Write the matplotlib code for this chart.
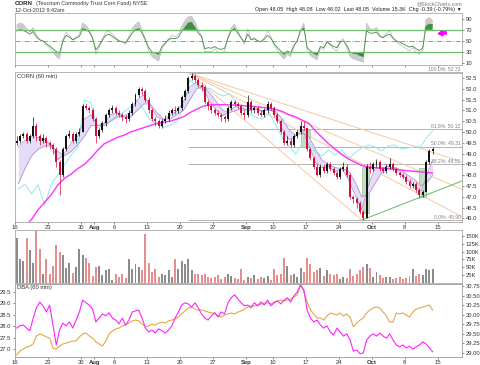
import numpy as np
import matplotlib
matplotlib.use('Agg')
import matplotlib.pyplot as plt

plt.rcParams['font.family'] = ['Liberation Sans', 'DejaVu Sans']

# ---------------- data (x unit = trading day since Jul 16, 2 bars per day) ----------------
closes = [
    49.6, 49.8, 49.9, 49.6, 49.8, 50.3, 49.8, 49.6, 49.7, 49.5,
    49.4, 49.2, 48.6, 48.0, 49.2, 49.8, 49.9, 49.6, 49.9, 50.0,
    51.2, 51.1, 51.0, 50.6, 49.8, 50.1, 50.4, 50.8, 51.0, 51.1,
    50.9, 50.8, 50.7, 50.6, 50.9, 51.3, 51.7, 52.0, 51.9, 51.5,
    51.0, 50.6, 50.5, 50.3, 50.5, 50.6, 50.9, 51.0, 50.95, 51.1,
    51.6, 51.9, 52.5, 52.6, 52.4, 52.2, 52.1, 51.4, 51.2, 51.0,
    50.9, 50.8, 50.7, 50.6, 51.1, 51.4, 51.3, 51.2, 50.9, 50.8,
    51.4, 51.0, 51.1, 50.9, 50.8, 51.0, 51.3, 51.1, 50.8, 50.5,
    50.0, 49.5, 49.6, 49.4, 49.8, 50.0, 50.3, 50.2, 49.2, 48.8,
    48.4, 48.0, 48.4, 48.2, 48.5, 48.3, 48.1, 47.9, 48.3, 48.4,
    48.0, 47.0, 46.9, 46.7, 46.3, 46.0, 48.4, 48.3, 48.5, 48.6,
    48.3, 48.2, 48.4, 48.5, 48.3, 48.1, 48.0, 47.9, 47.7, 47.5,
    47.6, 47.3, 47.1, 47.2, 48.6, 49.1, 49.2]
first_open = 49.5
highs = [
    49.8, 49.9, 50.0, 50.0, 49.9, 50.7, 50.4, 49.9, 49.9, 49.8,
    49.6, 49.5, 49.3, 48.7, 49.3, 49.9, 50.1, 50.0, 50.0, 50.2,
    51.3, 51.35, 51.2, 51.1, 50.7, 50.2, 50.5, 50.9, 51.1, 51.25,
    51.2, 51.0, 50.9, 50.8, 51.0, 51.4, 51.8, 52.1, 52.1, 52.0,
    51.6, 51.1, 50.7, 50.6, 50.6, 50.8, 51.0, 51.1, 51.2, 51.2,
    51.7, 52.0, 52.6, 52.73, 52.7, 52.5, 52.3, 52.2, 51.5, 51.3,
    51.1, 51.0, 50.9, 50.8, 51.2, 51.5, 51.5, 51.4, 51.3, 51.0,
    51.7, 51.5, 51.2, 51.2, 51.0, 51.1, 51.45, 51.4, 51.2, 50.9,
    50.6, 50.1, 49.8, 49.7, 49.9, 50.1, 50.5, 50.5, 50.2, 49.3,
    48.9, 48.5, 48.5, 48.5, 48.6, 48.6, 48.4, 48.2, 48.4, 48.6,
    48.5, 48.1, 47.1, 47.0, 46.8, 46.4, 48.5, 48.6, 48.6, 48.75,
    48.7, 48.4, 48.5, 48.8, 48.6, 48.4, 48.2, 48.1, 48.0, 47.8,
    47.7, 47.7, 47.4, 47.3, 48.7, 49.2, 49.3]
lows = [
    49.4, 49.5, 49.7, 49.5, 49.5, 49.7, 49.6, 49.4, 49.5, 49.3,
    49.2, 49.0, 48.4, 47.1, 47.9, 49.1, 49.7, 49.5, 49.5, 49.8,
    50.0, 51.0, 50.9, 50.5, 49.5, 49.7, 50.0, 50.3, 50.7, 50.9,
    50.8, 50.7, 50.5, 50.4, 50.5, 50.8, 51.2, 51.6, 51.7, 51.4,
    50.9, 50.5, 50.3, 50.2, 50.2, 50.4, 50.5, 50.8, 50.85, 50.9,
    51.0, 51.5, 51.8, 52.4, 52.3, 52.1, 51.9, 51.3, 51.0, 50.9,
    50.8, 50.7, 50.5, 50.45, 50.5, 51.0, 51.2, 51.1, 50.8, 50.6,
    50.7, 50.9, 50.9, 50.8, 50.7, 50.7, 50.9, 51.0, 50.7, 50.4,
    49.9, 49.4, 49.4, 49.3, 49.3, 49.7, 49.9, 50.1, 49.1, 48.7,
    48.3, 47.95, 47.9, 48.1, 48.1, 48.2, 48.0, 47.8, 47.8, 48.2,
    47.9, 46.9, 46.7, 46.5, 46.2, 45.9, 46.0, 48.1, 48.2, 48.4,
    48.2, 48.1, 48.1, 48.3, 48.2, 48.0, 47.9, 47.8, 47.6, 47.4,
    47.4, 47.2, 46.95, 47.0, 47.2, 48.5, 49.0]
volume_k = [
    145, 78, 70, 145, 105, 65, 165, 110, 30, 78,
    30, 55, 120, 100, 88, 48, 65, 32, 50, 110,
    90, 80, 65, 22, 50, 55, 25, 40, 45, 10,
    30, 20, 28, 15, 78, 45, 60, 50, 40, 155,
    65, 35, 45, 20, 30, 25, 40, 20, 78, 45,
    70, 60, 78, 40, 30, 28, 25, 30, 20, 15,
    18, 25, 12, 20, 28, 22, 15, 12, 45, 10,
    20, 15, 25, 12, 18, 15, 22, 10, 45, 25,
    30, 80, 55, 25, 30, 20, 48, 35, 80, 60,
    35, 40, 48, 22, 40, 30, 25, 30, 12, 20,
    15, 45, 22, 30, 40, 50, 62, 48, 20, 35,
    25, 15, 18, 20, 12, 15, 20, 12, 15, 22,
    45, 22, 30, 25, 45, 40, 45]
rsi_green = [
    68, 70, 69, 66, 62, 67, 57, 52, 50, 45,
    41, 36, 31, 28, 50, 60, 57, 52, 55, 58,
    72, 70, 66, 55, 34, 42, 52, 60, 62, 58,
    54, 50, 49, 47, 55, 64, 70, 72, 64, 52,
    38, 30, 29, 26, 40, 46, 52, 55, 54, 57,
    67, 74, 82, 83, 74, 64, 58, 36, 38, 37,
    40, 36, 35, 37, 55, 68, 72, 64, 55, 48,
    62, 52, 54, 50, 49, 53, 60, 55, 45, 38,
    32, 26, 32, 29, 42, 50, 68, 73, 38, 32,
    28, 25, 40, 38, 48, 44, 40, 38, 48, 50,
    42, 30, 28, 27, 24, 22, 68, 64, 64, 66,
    58, 56, 60, 62, 55, 50, 48, 45, 42, 39,
    41, 36, 33, 37, 76, 80, 79]
rsi_gray = [
    78, 82, 80, 72, 66, 74, 60, 52, 50, 42,
    38, 30, 22, 18, 52, 66, 60, 52, 57, 62,
    82, 78, 70, 56, 26, 38, 54, 66, 68, 62,
    56, 50, 48, 44, 58, 72, 80, 84, 70, 52,
    32, 22, 18, 14, 36, 46, 54, 60, 58, 62,
    76, 86, 93, 94, 84, 70, 60, 30, 32, 30,
    36, 30, 28, 32, 56, 74, 80, 68, 56, 44,
    72, 52, 56, 50, 48, 56, 68, 58, 42, 32,
    24, 18, 26, 22, 40, 52, 70, 82, 32, 24,
    20, 16, 38, 34, 50, 42, 36, 32, 50, 54,
    38, 22, 18, 16, 14, 12, 82, 72, 70, 74,
    60, 56, 64, 68, 56, 48, 44, 40, 36, 32,
    38, 30, 26, 34, 88, 92, 86]
dba_magenta = [
    29.65, 29.71, 29.73, 29.65, 29.58, 29.91, 30.18, 30.33, 30.23, 30.07,
    30.25, 29.73, 29.21, 29.60, 29.78, 29.71, 29.81, 29.65, 29.86, 30.07,
    30.38, 30.31, 30.25, 30.15, 29.81, 29.91, 30.02, 29.97, 30.05, 29.91,
    29.86, 29.76, 29.91, 29.73, 29.86, 30.07, 30.10, 30.12, 29.91, 29.65,
    29.55, 29.60, 29.52, 29.63, 29.58, 29.52, 29.60, 29.71, 29.91, 30.07,
    30.25, 30.31, 30.28, 30.20, 30.31, 30.18, 30.02, 29.91, 29.86, 29.97,
    30.05, 29.94, 30.07, 30.02, 30.31, 30.44, 30.52, 30.41, 30.31, 30.23,
    30.25, 30.18, 30.31, 30.23, 30.33, 30.25, 30.38, 30.23, 30.31, 30.36,
    30.28, 30.38, 30.44, 30.33, 30.49, 30.59, 30.78, 30.65, 30.12, 29.91,
    29.81, 29.86, 29.73, 29.65, 29.71, 29.55, 29.47, 29.65, 29.55, 29.44,
    29.50, 29.34, 29.05, 29.08, 28.98, 29.00, 29.34, 29.44, 29.50, 29.44,
    29.52, 29.44, 29.39, 29.50, 29.34, 29.21, 29.16, 29.21, 29.13, 29.18,
    29.10, 29.16, 29.21, 29.29, 29.24, 29.13, 29.03]
dba_orange = [
    26.74, 26.91, 27.00, 27.09, 27.13, 27.22, 27.57, 27.66, 27.61, 27.53,
    27.48, 27.04, 27.00, 27.13, 27.22, 27.26, 27.31, 27.35, 27.35, 27.53,
    27.66, 27.70, 27.57, 27.48, 27.31, 27.22, 27.13, 27.35, 27.66, 27.79,
    27.88, 27.92, 28.01, 28.05, 28.14, 28.23, 28.27, 28.23, 28.10, 27.97,
    28.01, 28.10, 28.05, 28.14, 28.18, 28.14, 28.23, 28.27, 28.32, 28.40,
    28.54, 28.67, 28.80, 28.84, 28.75, 28.71, 28.71, 28.67, 28.62, 28.58,
    28.58, 28.45, 28.40, 28.49, 28.54, 28.58, 28.54, 28.62, 28.67, 28.75,
    28.84, 28.89, 28.89, 28.93, 28.97, 29.02, 29.02, 28.97, 29.06, 29.11,
    29.15, 29.11, 29.15, 29.19, 29.28, 29.37, 29.81, 29.50, 29.06, 28.71,
    28.54, 28.36, 28.36, 28.27, 28.45, 28.58, 28.54, 28.49, 28.58, 28.45,
    28.54, 28.40, 27.97, 28.14, 28.27, 28.36, 28.58, 28.71, 28.80, 28.84,
    28.80, 28.62, 28.45, 28.18, 28.18, 28.58, 28.54, 28.58, 28.49, 28.40,
    28.62, 28.75, 28.80, 28.84, 28.89, 28.93, 28.71]
# one value per trading day
ma_slow_magenta = [
    45.3, 45.6, 45.95, 46.4, 46.75, 47.1, 47.55, 47.85, 48.05, 48.3,
    48.5, 48.8, 49.15, 49.45, 49.6, 49.75, 49.85, 50.0, 50.1, 50.2,
    50.3, 50.4, 50.45, 50.5, 50.6, 50.7, 50.9, 51.05, 51.2, 51.25,
    51.27, 51.27, 51.25, 51.25, 51.22, 51.2, 51.17, 51.14, 51.1, 51.05,
    50.95, 50.8, 50.7, 50.55, 50.4, 50.05, 49.75, 49.45, 49.2, 48.95,
    48.75, 48.6, 48.45, 48.38, 48.35, 48.32, 48.3, 48.27, 48.24, 48.2,
    48.18, 48.15, 48.12, 48.1]
band_fast = [
    49.3, 49.6, 49.8, 49.75, 49.65, 49.4, 48.7, 49.0, 49.5, 49.8,
    50.6, 50.8, 50.3, 50.4, 50.8, 50.9, 50.75, 50.9, 51.5, 51.7,
    51.2, 50.7, 50.55, 50.8, 50.95, 51.4, 52.1, 52.3, 52.0, 51.4,
    51.0, 50.75, 51.0, 51.2, 51.0, 51.1, 51.05, 50.95, 51.1, 50.85,
    50.1, 49.65, 49.8, 50.1, 49.4, 48.6, 48.35, 48.4, 48.15, 48.3,
    47.8, 47.1, 46.4, 47.5, 48.3, 48.35, 48.4, 48.3, 48.05, 47.75,
    47.5, 47.25, 48.1, 48.7]
band_slow = [
    47.6, 48.3, 48.9, 49.2, 49.35, 49.35, 49.1, 48.9, 49.1, 49.4,
    49.8, 50.3, 50.3, 50.3, 50.5, 50.7, 50.7, 50.7, 51.0, 51.3,
    51.3, 50.9, 50.6, 50.6, 50.8, 51.0, 51.5, 52.0, 52.1, 51.8,
    51.4, 51.0, 50.9, 51.0, 51.1, 51.0, 51.05, 51.0, 51.0, 50.95,
    50.6, 50.1, 49.85, 49.95, 49.8, 49.2, 48.7, 48.5, 48.35, 48.3,
    48.2, 47.7, 47.0, 47.1, 47.6, 48.1, 48.3, 48.35, 48.25, 48.0,
    47.8, 47.5, 47.7, 48.0]
cyan_line = [
    47.36, 47.59, 47.13, 47.55, 46.62, 47.59, 48.01, 48.47, 48.94, 49.26,
    51.48, 51.34, 50.19, 50.37, 50.56, 50.74, 50.93, 51.16, 51.44, 51.02,
    50.56, 50.37, 50.23, 50.32, 50.46, 51.25, 52.41, 52.13, 51.94, 52.04,
    51.81, 51.67, 51.76, 51.39, 51.11, 50.83, 50.69, 50.60, 50.88, 50.32,
    49.72, 49.35, 48.98, 49.49, 49.58, 49.07, 48.89, 49.17, 48.94, 49.17,
    48.75, 49.03, 49.26, 49.40, 49.31, 49.12, 49.35, 49.40, 49.21, 49.26,
    49.31, 49.35, 49.81, 50.05]

# annotations
fib_high_day, fib_high = 26.4, 52.73
fib_low_day, fib_low = 52.6, 45.90
fib_levels = [1.0, 0.618, 0.5, 0.382, 0.0]
fan_ratios = [0.0, 0.382, 0.5, 0.618]
trend_days = [52.6, 67.7]
trend_prices = [45.93, 47.73]
gap_boxes = [(43.3, 44.7, 49.3, 50.1), (52.6, 53.6, 46.25, 48.4), (61.2, 62.3, 46.99, 48.33)]

tick_days = [0, 5, 10, 12, 15, 20, 25, 30, 35, 39, 44, 49, 54, 59, 64]
tick_labels = ['16', '23', '30', 'Aug', '6', '13', '20', '27', 'Sep', '10', '17', '24', 'Oct', '8', '15']
price_ticks = [46.0, 46.5, 47.0, 47.5, 48.0, 48.5, 49.0, 49.5, 50.0, 50.5, 51.0, 51.5, 52.0, 52.5]
rsi_ticks = [10, 30, 50, 70, 90]
vol_ticks = [25, 50, 75, 100, 125, 150]
dba_left_ticks = [27.0, 27.5, 28.0, 28.5, 29.0, 29.5]
dba_right_ticks = [29.0, 29.25, 29.5, 29.75, 30.0, 30.25, 30.5, 30.75]

# ---------------- layout ----------------
W, H = 480, 365
fig = plt.figure(figsize=(4.8, 3.65), dpi=100)
fig.patch.set_facecolor('white')


def rect(top, bottom, left=15, right=462):
    return [left / W, 1 - bottom / H, (right - left) / W, (bottom - top) / H]


ax_r = fig.add_axes(rect(13, 65))
ax_p = fig.add_axes(rect(72, 222))
ax_v = fig.add_axes(rect(230, 283))
ax_d = fig.add_axes(rect(284, 357))
ax_d2 = ax_d.twinx()

XMAX = 67.7
n = len(closes)
xb = np.arange(n) * 0.5 + 0.25
xd = np.minimum(np.arange(len(band_fast)) + 0.5, xb[-1])
opens = [first_open] + closes[:-1]
up = np.array(closes) >= np.array(opens)

FS = 4.2
for ax in (ax_r, ax_p, ax_v, ax_d, ax_d2):
    ax.set_xlim(0, XMAX)
    for s in ax.spines.values():
        s.set_color('#a8a8a8')
        s.set_linewidth(0.6)
    ax.tick_params(labelsize=FS, length=1.5, width=0.4, pad=1, colors='#333333')
    ax.yaxis.tick_right()

for ax in (ax_r, ax_p, ax_v, ax_d):
    ax.set_xticks(tick_days)
    ax.set_xticklabels([])

# ---------------- RSI panel ----------------
ax_r.set_ylim(7, 100)
ax_r.set_yticks(rsi_ticks)
ax_r.set_yticklabels([str(t) for t in rsi_ticks])
g = np.array(rsi_gray, float)
gr = np.array(rsi_green, float)
ax_r.fill_between(xb, g, 70, where=g > 70, interpolate=True, color='#cccccc', lw=0)
ax_r.fill_between(xb, g, 30, where=g < 30, interpolate=True, color='#cccccc', lw=0)
ax_r.plot(xb, g, color='#c4c4c4', lw=0.6)
ax_r.fill_between(xb, gr, 70, where=gr > 70, interpolate=True, color='#3f8f3f', lw=0)
ax_r.fill_between(xb, gr, 30, where=gr < 30, interpolate=True, color='#3f8f3f', lw=0)
ax_r.plot(xb, gr, color='#3d8b3d', lw=0.6)
ax_r.axhline(70, color='#6cbf6c', lw=0.9)
ax_r.axhline(30, color='#6cbf6c', lw=0.9)
ax_r.axhline(50, color='#6a9a6a', lw=0.6, ls=(0, (6, 2, 1, 2)))
ax_r.plot([64.3, 65.4], [65, 65], color='#ff00ff', lw=2.6, solid_capstyle='butt')
ax_r.plot([64.3], [65], marker='<', ms=3.5, color='#ff00ff', mec='#ff00ff')

# ---------------- price panel ----------------
ax_p.set_ylim(45.83, 52.78)
ax_p.set_yticks(price_ticks)
ax_p.set_yticklabels(['%.1f' % t for t in price_ticks])
ax_p.set_xticklabels(tick_labels)
for lab in ax_p.get_xticklabels():
    if lab.get_text() in ('Aug', 'Sep', 'Oct'):
        lab.set_fontweight('bold')

# Fibonacci retracement lines
rng = fib_high - fib_low
for lv in fib_levels:
    val = fib_low + lv * rng
    ax_p.plot([fib_high_day, XMAX], [val, val], color='#b4b4b4', lw=0.7, zorder=1, clip_on=False)
    ax_p.text(XMAX - 0.2, val + 0.03, '%.1f%%: %.2f' % (lv * 100, val), fontsize=3.6,
              color='#808080', ha='right', va='bottom', zorder=6, clip_on=False)
# Fibonacci fan lines
for r in fan_ratios:
    target = fib_low + r * rng
    slope = (target - fib_high) / (fib_low_day - fib_high_day)
    ax_p.plot([fib_high_day, XMAX], [fib_high, fib_high + slope * (XMAX - fib_high_day)],
              color='#f6c9a2', lw=0.7, zorder=1)
# gap boxes
for x0, x1, p0, p1 in gap_boxes:
    ax_p.add_patch(plt.Rectangle((x0, p0), x1 - x0, p1 - p0, facecolor='#c4dcbf',
                                 edgecolor='#9fc096', lw=0.5, zorder=2))
# trend line
ax_p.plot(trend_days, trend_prices, color='#77c177', lw=0.8, zorder=3)
# indicators
ax_p.plot(xd, cyan_line, color='#8eeaf0', lw=0.7, zorder=3)
ax_p.fill_between(xd, band_fast, band_slow, color='#e7dcf5', lw=0, zorder=2)
ax_p.plot(xd, band_fast, color='#a98bd6', lw=0.5, zorder=3)
ax_p.plot(xd, band_slow, color='#a98bd6', lw=0.5, zorder=3)
ax_p.plot(xd, ma_slow_magenta, color='#ff33ff', lw=1.0, zorder=4)
# candles
cols = np.where(up, '#111111', '#d0103a')
ax_p.vlines(xb, lows, highs, colors=cols, lw=0.5, zorder=5)
body_lo = np.minimum(opens, closes)
body_h = np.maximum(np.abs(np.array(closes) - np.array(opens)), 0.03)
ax_p.bar(xb, body_h, bottom=body_lo, width=0.3, color=cols, lw=0, zorder=5)
ax_p.text(0.004, 0.985, 'CORN (60 min)', transform=ax_p.transAxes, fontsize=FS,
          color='#333333', va='top', ha='left')

# ---------------- volume panel ----------------
ax_v.set_ylim(0, 169)
ax_v.set_yticks(vol_ticks)
ax_v.set_yticklabels(['%dK' % t for t in vol_ticks])
vcols = np.where(up, '#8c8c8c', '#e58e8e')
ax_v.bar(xb, volume_k, width=0.3, color=vcols, lw=0)

# ---------------- DBA panel ----------------
ax_d.set_ylim(26.65, 29.85)
ax_d.yaxis.tick_left()
ax_d.set_yticks(dba_left_ticks)
ax_d.set_yticklabels(['%.1f' % t for t in dba_left_ticks])
ax_d.plot(xb, dba_orange, color='#e0a94a', lw=0.8)
ax_d2.set_ylim(28.896, 30.80)
ax_d2.set_yticks(dba_right_ticks)
ax_d2.set_yticklabels(['%.2f' % t for t in dba_right_ticks])
ax_d2.plot(xb, dba_magenta, color='#ff22ff', lw=0.8)
ax_d.set_xticklabels(tick_labels)
for lab in ax_d.get_xticklabels():
    if lab.get_text() in ('Aug', 'Sep', 'Oct'):
        lab.set_fontweight('bold')
ax_d.text(0.004, 0.985, 'DBA (60 min)', transform=ax_d.transAxes, fontsize=FS,
          color='#333333', va='top', ha='left')

# ---------------- header ----------------
fig.text(15 / W, 1 - 1 / H, 'CORN', fontsize=4.4, fontweight='bold', va='top', ha='left', color='#222222')
fig.text(36 / W, 1 - 1.5 / H, '(Teucrium Commodity Trust Corn Fund) NYSE', fontsize=3.9,
         va='top', ha='left', color='#333333')
fig.text(15 / W, 1 - 7.5 / H, '12-Oct-2012 9:42am', fontsize=3.9, va='top', ha='left', color='#333333')
fig.text(462 / W, 1 - 1 / H, '@StockCharts.com', fontsize=3.8, va='top', ha='right', color='#777777')
fig.text(462 / W, 1 - 7.5 / H,
         'Open 48.05  High 48.08  Low 48.02  Last 48.05  Volume 15.3K  Chg -0.39 (-0.79%) \u25bc',
         fontsize=3.9, va='top', ha='right', color='#222222')

fig.savefig('out.png', dpi=100, facecolor='white')
